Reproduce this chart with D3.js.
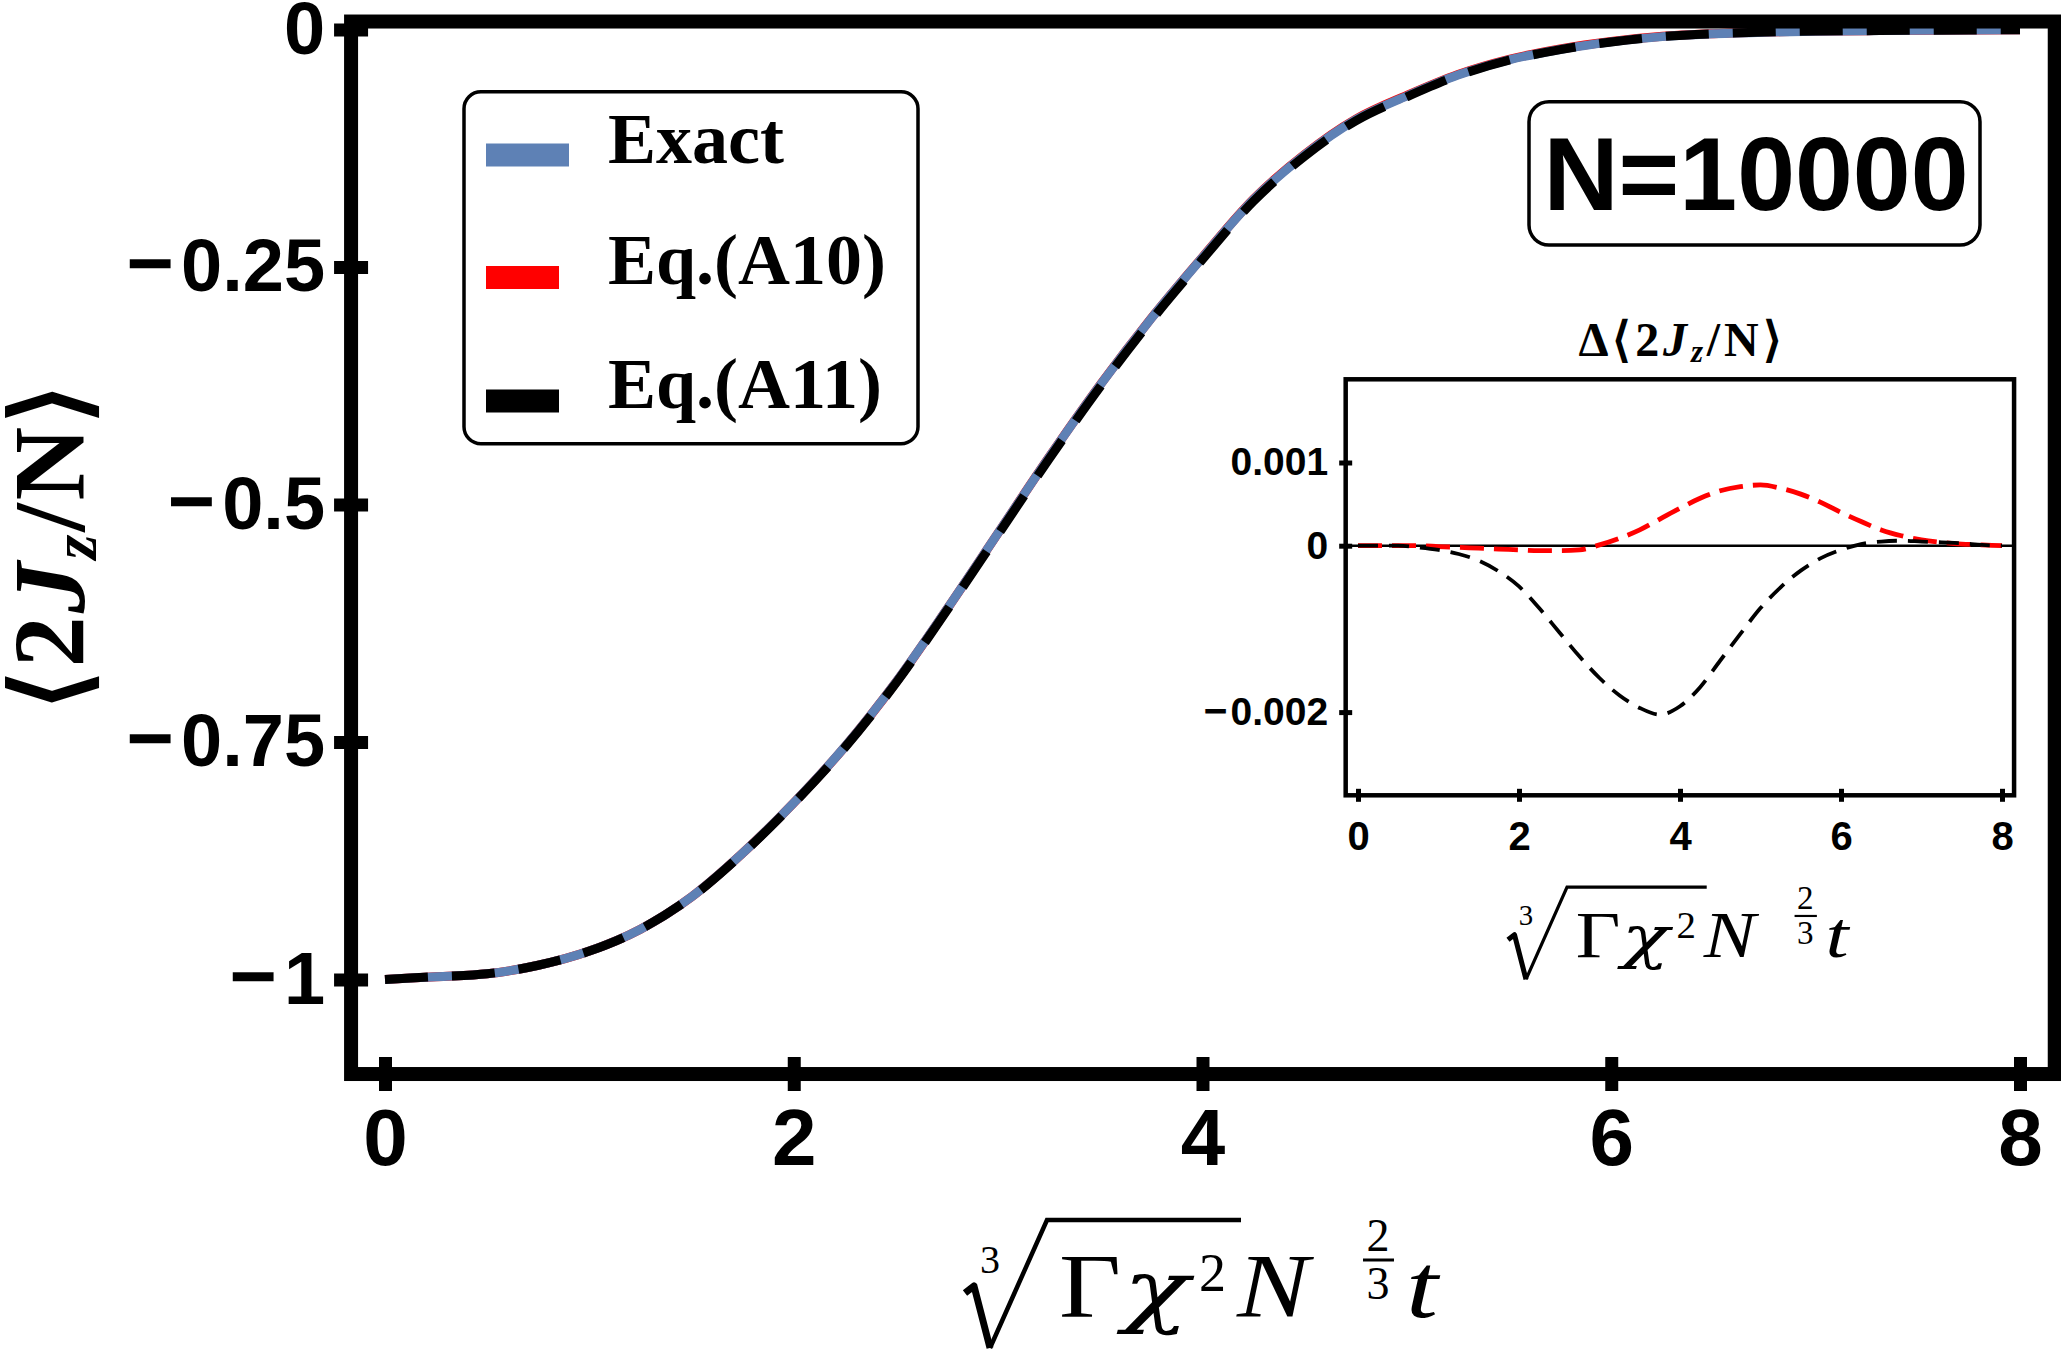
<!DOCTYPE html>
<html>
<head>
<meta charset="utf-8">
<script src="https://cdn.jsdelivr.net/npm/d3@7"></script>
<style>
  body { margin: 0; background: #fff; }
  svg { display: block; }
</style>
</head>
<body>
<div id="chart"></div>
<script>
const W = 2061, H = 1371;

// data
const tGrid = [0, 0.25, 0.5, 0.75, 1, 1.25, 1.5, 1.75, 2, 2.25, 2.5, 2.75, 3, 3.25, 3.5, 3.75,
  4, 4.25, 4.5, 4.75, 5, 5.25, 5.5, 5.75, 6, 6.25, 6.5, 6.75, 7, 7.25, 7.5, 7.75, 8];
const exactVals = [-1.000, -0.997, -0.994, -0.985, -0.970, -0.947, -0.913, -0.867, -0.814, -0.755, -0.687,
  -0.610, -0.530, -0.450, -0.374, -0.304, -0.240, -0.179, -0.132, -0.095, -0.070, -0.048, -0.032,
  -0.021, -0.013, -0.0075, -0.0046, -0.0028, -0.0018, -0.0012, -0.0008, -0.0005, -0.0003];
const a10Vals = [-1.000, -0.997, -0.994, -0.985, -0.970, -0.947, -0.913, -0.867, -0.8141, -0.7551, -0.6871,
  -0.6101, -0.5300, -0.4499, -0.3738, -0.3037, -0.2396, -0.1784, -0.1313, -0.0943, -0.0693, -0.0473, -0.0314,
  -0.0205, -0.0126, -0.0072, -0.0044, -0.0027, -0.0017, -0.0012, -0.0008, -0.0005, -0.0003];
const a11Vals = [-1.000, -0.997, -0.994, -0.985, -0.9701, -0.9471, -0.9132, -0.8673, -0.8145, -0.7558, -0.6880,
  -0.6113, -0.5316, -0.4518, -0.3760, -0.3060, -0.2419, -0.1807, -0.1334, -0.0961, -0.0708, -0.0485, -0.0323,
  -0.0212, -0.0131, -0.0075, -0.0045, -0.0027, -0.0017, -0.0012, -0.0008, -0.0005, -0.0003];
// inset: deviation from the exact curve
const a10Diff = [0, 0, 0, 0, -0.00001, -0.00002, -0.00003, -0.00004, -0.00005, -0.00006, -0.00006, -0.00005,
  0.00001, 0.00009, 0.00019, 0.00032, 0.00045, 0.00057, 0.00066, 0.00071, 0.00073, 0.00069, 0.00062, 0.00052,
  0.00040, 0.00029, 0.00019, 0.00012, 0.00007, 0.00004, 0.00002, 0.00001, 0];
const a11Diff = [0, 0, 0, -0.00002, -0.00005, -0.00010, -0.00018, -0.00031, -0.00049, -0.00075, -0.00104,
  -0.00133, -0.00159, -0.00180, -0.00195, -0.00203, -0.00193, -0.00170, -0.00138, -0.00106, -0.00075,
  -0.00050, -0.00030, -0.00015, -0.00005, 0.00002, 0.00005, 0.00006, 0.00005, 0.00004, 0.00003, 0.00001, 0];

const xTicks = [0, 2, 4, 6, 8];
const yTicks = [0, -0.25, -0.5, -0.75, -1];
const yTickLabels = ['0', '-0.25', '-0.5', '-0.75', '-1'];
const insetYTicks = [0.001, 0, -0.002];
const insetYTickLabels = ['0.001', '0', '-0.002'];
const legendLabels = ['Exact', 'Eq.(A10)', 'Eq.(A11)'];
const legendColors = ['#5e81b5', '#ff0000', '#000000'];
const sizeLabel = 'N=10000';

const sans = '"Liberation Sans", Arial, sans-serif';
const serif = '"Liberation Serif", "Times New Roman", serif';

const svg = d3.select('#chart').append('svg').attr('width', W).attr('height', H);
svg.append('rect').attr('width', W).attr('height', H).attr('fill', '#fff');

// main scales
const x = d3.scaleLinear().domain([0, 8]).range([385, 2020]);
const y = d3.scaleLinear().domain([-1, 0]).range([979.5, 29.5]);
const fr = { x0: x(-0.166), x1: x(8.17), y0: y(0.0084), y1: y(-1.0995) };

const lineOf = (xs, ys) => (vals) => d3.line()
  .x((d, i) => xs(tGrid[i])).y(d => ys(d)).curve(d3.curveMonotoneX)(vals);
const mainLine = lineOf(x, y);

svg.append('path').attr('d', mainLine(a10Vals)).attr('fill', 'none')
  .attr('stroke', '#ff0000').attr('stroke-width', 9);
svg.append('path').attr('d', mainLine(exactVals)).attr('fill', 'none')
  .attr('stroke', '#5e81b5').attr('stroke-width', 9);
svg.append('path').attr('d', mainLine(a11Vals)).attr('fill', 'none')
  .attr('stroke', '#000').attr('stroke-width', 9).attr('stroke-dasharray', '43,24');

// frame
svg.append('rect').attr('x', fr.x0).attr('y', fr.y0)
  .attr('width', fr.x1 - fr.x0).attr('height', fr.y1 - fr.y0)
  .attr('fill', 'none').attr('stroke', '#000').attr('stroke-width', 14);

// Mathematica-style minus: a little wider, small gap before the digits
function minusLabels(g, gap, grow) {
  g.selectAll('.tick text').each(function () {
    const t = d3.select(this);
    const s = t.text();
    if (s[0] === '-') {
      t.text(null);
      t.append('tspan').attr('font-size', grow + 'em').text('\u2212');
      t.append('tspan').attr('dx', gap).text(s.slice(1));
    }
  });
}

// y axis
const yAxis = d3.axisLeft(y).tickValues(yTicks).tickSize(34).tickPadding(9)
  .tickFormat(d => yTickLabels[yTicks.indexOf(d)]);
svg.append('g').attr('transform', 'translate(' + (fr.x0 + 17) + ',0)').call(yAxis)
  .call(g => g.select('.domain').remove())
  .call(g => g.selectAll('.tick line').attr('stroke', '#000').attr('stroke-width', 13))
  .attr('font-size', 74).attr('font-family', sans).attr('font-weight', 'bold')
  .call(g => g.selectAll('.tick text').attr('fill', '#000'))
  .call(g => minusLabels(g, 7, 1.1));

// x axis
const xAxis = d3.axisBottom(x).tickValues(xTicks).tickSize(34).tickPadding(17).tickFormat(d3.format('d'));
svg.append('g').attr('transform', 'translate(0,' + (fr.y1 - 17) + ')').call(xAxis)
  .call(g => g.select('.domain').remove())
  .call(g => g.selectAll('.tick line').attr('stroke', '#000').attr('stroke-width', 13))
  .attr('font-size', 80).attr('font-family', sans).attr('font-weight', 'bold')
  .call(g => g.selectAll('.tick text').attr('fill', '#000'));

// y label <2Jz/N>
const yl = svg.append('text').attr('transform', 'translate(84,547) rotate(-90)')
  .attr('text-anchor', 'middle').attr('font-family', serif).attr('font-weight', 'bold')
  .attr('font-size', 102).attr('textLength', 326);
yl.append('tspan').text('\u27E82');
yl.append('tspan').attr('font-style', 'italic').text('J');
yl.append('tspan').attr('font-style', 'italic').attr('font-size', 64).attr('dy', 12).text('z');
yl.append('tspan').attr('dy', -12).text('/N\u27E9');

// x label: cube root of Gamma chi^2, N^(2/3) t
function timeLabel(x0, y0, s) {
  const m = svg.append('g').attr('transform', 'translate(' + x0 + ',' + y0 + ') scale(' + s + ')')
    .attr('font-family', serif).attr('fill', '#000');
  const glyph = (gx, gy, size, txt, len, italic) => {
    const t = m.append('text').attr('x', gx).attr('y', gy).attr('font-size', size).text(txt);
    if (len) t.attr('textLength', len).attr('lengthAdjust', 'spacingAndGlyphs');
    if (italic) t.attr('font-style', 'italic');
    return t;
  };
  m.append('path').attr('d', 'M0,-24 L9,-31 L25,31').attr('fill', 'none')
    .attr('stroke', '#000').attr('stroke-width', 7).attr('stroke-linejoin', 'round');
  m.append('path').attr('d', 'M25,31 L82,-97 H276').attr('fill', 'none')
    .attr('stroke', '#000').attr('stroke-width', 4.5);
  glyph(15, -44, 40, '3');
  glyph(94, 0, 90, '\u0393', 62);
  glyph(158, 0, 80, '\u03C7', 66, true).attr('font-family', '"DejaVu Serif", serif');
  glyph(234, -26, 54, '2');
  glyph(272, 0, 90, 'N', 72, true);
  m.append('text').attr('x', 413).attr('y', -66).attr('font-size', 46).attr('text-anchor', 'middle').text('2');
  m.append('line').attr('x1', 398).attr('x2', 429).attr('y1', -57).attr('y2', -57)
    .attr('stroke', '#000').attr('stroke-width', 3);
  m.append('text').attr('x', 413).attr('y', -18).attr('font-size', 46).attr('text-anchor', 'middle').text('3');
  glyph(441, 0, 90, 't', 32, true);
}
timeLabel(965, 1317, 1);

// legend
svg.append('rect').attr('x', 464).attr('y', 91.7).attr('width', 454).attr('height', 352)
  .attr('rx', 17).attr('fill', '#fff').attr('stroke', '#000').attr('stroke-width', 3.5);
const legendRows = [
  { sy: 155, by: 162.7, len: 83 },
  { sy: 277.5, by: 284, len: 73 },
  { sy: 401, by: 408.3, len: 73 }
];
legendLabels.forEach((lab, i) => {
  const r = legendRows[i];
  svg.append('line').attr('x1', 486).attr('x2', 486 + r.len).attr('y1', r.sy).attr('y2', r.sy)
    .attr('stroke', legendColors[i]).attr('stroke-width', 23);
  svg.append('text').attr('x', 608).attr('y', r.by).attr('font-family', serif)
    .attr('font-weight', 'bold').attr('font-size', 72).text(lab);
});

// N box
svg.append('rect').attr('x', 1529).attr('y', 101.7).attr('width', 451).attr('height', 143.3)
  .attr('rx', 20).attr('fill', '#fff').attr('stroke', '#000').attr('stroke-width', 3.5);
svg.append('text').attr('x', 1756).attr('y', 210).attr('text-anchor', 'middle')
  .attr('font-family', sans).attr('font-weight', 'bold').attr('font-size', 104).text(sizeLabel);

// inset
const xi = d3.scaleLinear().domain([0, 8]).range([1358, 2002]);
const yi = d3.scaleLinear().domain([0, 0.001]).range([545.7, 462.5]);
const fi = { x0: xi(-0.153), x1: xi(8.15), y0: yi(0.002), y1: yi(-0.003) };
const insetLine = lineOf(xi, yi);

svg.append('rect').attr('x', fi.x0).attr('y', fi.y0).attr('width', fi.x1 - fi.x0)
  .attr('height', fi.y1 - fi.y0).attr('fill', '#fff');
svg.append('line').attr('x1', fi.x0).attr('x2', fi.x1).attr('y1', yi(0)).attr('y2', yi(0))
  .attr('stroke', '#000').attr('stroke-width', 2.5);
svg.append('path').attr('d', insetLine(a10Diff)).attr('fill', 'none')
  .attr('stroke', '#ff0000').attr('stroke-width', 4.8).attr('stroke-dasharray', '24,10');
svg.append('path').attr('d', insetLine(a11Diff)).attr('fill', 'none')
  .attr('stroke', '#000').attr('stroke-width', 3.8).attr('stroke-dasharray', '20,11');
svg.append('rect').attr('x', fi.x0).attr('y', fi.y0).attr('width', fi.x1 - fi.x0)
  .attr('height', fi.y1 - fi.y0).attr('fill', 'none').attr('stroke', '#000').attr('stroke-width', 4.5);

const yiAxis = d3.axisLeft(yi).tickValues(insetYTicks).tickSize(13).tickPadding(11)
  .tickFormat(d => insetYTickLabels[insetYTicks.indexOf(d)]);
svg.append('g').attr('transform', 'translate(' + (fi.x0 + 6.5) + ',0)').call(yiAxis)
  .call(g => g.select('.domain').remove())
  .call(g => g.selectAll('.tick line').attr('stroke', '#000').attr('stroke-width', 5))
  .attr('font-size', 39).attr('font-family', sans).attr('font-weight', 'bold')
  .call(g => g.selectAll('.tick text').attr('fill', '#000'))
  .call(g => minusLabels(g, 3, 1.05));

const xiAxis = d3.axisBottom(xi).tickValues(xTicks).tickSize(13).tickPadding(20).tickFormat(d3.format('d'));
svg.append('g').attr('transform', 'translate(0,' + (fi.y1 - 6.5) + ')').call(xiAxis)
  .call(g => g.select('.domain').remove())
  .call(g => g.selectAll('.tick line').attr('stroke', '#000').attr('stroke-width', 5))
  .attr('font-size', 40).attr('font-family', sans).attr('font-weight', 'bold')
  .call(g => g.selectAll('.tick text').attr('fill', '#000'));

// inset title
const it = svg.append('text').attr('x', 1680).attr('y', 356).attr('text-anchor', 'middle')
  .attr('font-family', serif).attr('font-weight', 'bold').attr('font-size', 48).attr('textLength', 203);
it.append('tspan').text('\u0394\u27E82');
it.append('tspan').attr('font-style', 'italic').text('J');
it.append('tspan').attr('font-style', 'italic').attr('font-size', 31).attr('dy', 6).text('z');
it.append('tspan').attr('dy', -6).text('/N\u27E9');

timeLabel(1508, 957, 0.72);
</script>
</body>
</html>
